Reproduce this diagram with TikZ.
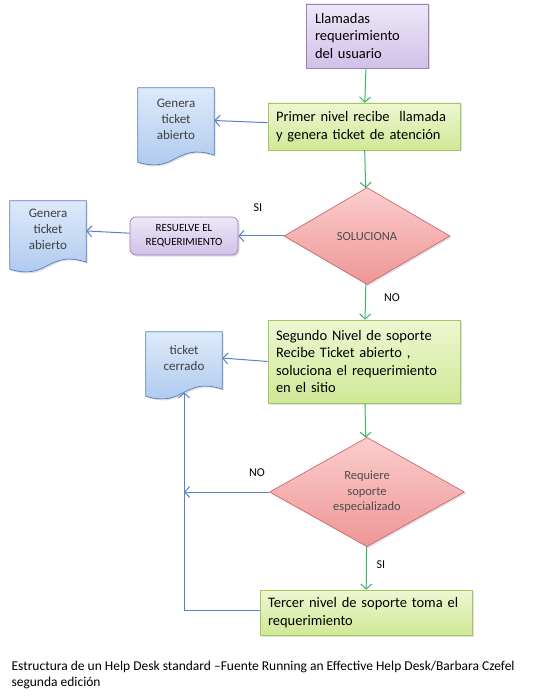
\documentclass[tikz,border=0pt]{standalone}
\usepackage{fontspec}
\setmainfont{Carlito}
\usetikzlibrary{positioning,calc,shapes.geometric,arrows.meta,shadows,backgrounds}

\definecolor{lilaT}{RGB}{238,232,248}
\definecolor{lilaB}{RGB}{208,192,232}
\definecolor{lilaD}{RGB}{150,130,185}
\definecolor{verdeT}{RGB}{238,247,210}
\definecolor{verdeB}{RGB}{208,232,150}
\definecolor{verdeD}{RGB}{160,200,95}
\definecolor{azulT}{RGB}{222,234,250}
\definecolor{azulB}{RGB}{170,198,238}
\definecolor{azulD}{RGB}{85,128,190}
\definecolor{rojoT}{RGB}{252,205,205}
\definecolor{rojoB}{RGB}{238,150,150}
\definecolor{rojoD}{RGB}{205,105,105}
\definecolor{flechaV}{RGB}{55,180,100}
\definecolor{flechaA}{RGB}{85,130,200}

\begin{document}
\begin{tikzpicture}[x=1pt,y=-1pt,font=\rmfamily]
\tikzset{
  sombra/.style={drop shadow={opacity=0.25, shadow xshift=1.5pt, shadow yshift=-1.5pt}},
  caja/.style={draw=verdeD, line width=0.7pt, top color=verdeT, bottom color=verdeB, sombra,
    align=left, inner sep=0pt, font=\fontsize{14.5}{17.5}\selectfont},
  cajalila/.style={caja, draw=lilaD, top color=lilaT, bottom color=lilaB},
  rombo/.style={diamond, draw=rojoD, line width=0.7pt, top color=rojoT, bottom color=rojoB, sombra,
    inner sep=0pt, align=center, text=black!70},
  resuelve/.style={draw=lilaD, line width=0.7pt, top color=lilaT, bottom color=lilaB, sombra,
    rounded corners=6pt, align=center, inner sep=0pt, font=\fontsize{11}{14}\selectfont},
  docu/.style={align=center, inner sep=0pt, text=black!75, font=\fontsize{13}{16}\selectfont},
  docline/.style={draw=azulD, line width=0.7pt, top color=azulT, bottom color=azulB, sombra},
  fv/.style={draw=flechaV, line width=1pt, -{Straight Barb[length=5pt,width=11pt]}},
  fa/.style={draw=flechaA, line width=1pt, -{Straight Barb[length=5pt,width=11pt]}},
  etq/.style={font=\fontsize{12}{14}\selectfont}
}
\useasboundingbox (0,0) rectangle (535,700);

% flujo principal
\node[cajalila, minimum width=122pt, minimum height=64pt, text width=104pt] (llam) at (367,36)
  {Llamadas\\requerimiento\\del usuario};
\node[caja, minimum width=192pt, minimum height=47pt, text width=176pt] (prim) at (364,126.5)
  {Primer nivel recibe \ llamada\\y genera ticket de atención};
\node[rombo, minimum width=166pt, minimum height=97pt, font=\fontsize{12.5}{14}\selectfont] (sol) at (367,236)
  {SOLUCIONA};
\node[caja, minimum width=192pt, minimum height=83pt, text width=176pt] (seg) at (364,361.5)
  {Segundo Nivel de soporte\\Recibe Ticket abierto ,\\soluciona el requerimiento\\en el sitio};
\node[rombo, minimum width=195pt, minimum height=95pt, font=\fontsize{12.5}{15.5}\selectfont] (req) at (367,492)
  {Requiere\\soporte\\especializado};
\node[caja, minimum width=212pt, minimum height=45pt, text width=196pt] (ter) at (366,612.5)
  {Tercer nivel de soporte toma el\\requerimiento};

% ramas laterales
\node[resuelve, minimum width=108pt, minimum height=38pt] (res) at (184,236)
  {RESUELVE EL\\REQUERIMIENTO};
\node[docu, minimum width=76pt, minimum height=62pt] (gen1) at (176,119) {Genera\\ticket\\abierto};
\node[docu, minimum width=76pt, minimum height=56pt] (gen2) at (48,229) {Genera\\ticket\\abierto};
\node[docu, minimum width=76pt, minimum height=52pt] (tkc) at (184,358) {ticket\\cerrado};

\begin{pgfonlayer}{background}
\foreach \d in {gen1,gen2,tkc}
  \path[docline] (\d.north west) -- (\d.north east) -- ([yshift=-5pt]\d.south east)
    .. controls ([yshift=8pt]\d.south) and ([yshift=-24pt]\d.south) .. ([yshift=-12pt]\d.south west) -- cycle;
\end{pgfonlayer}

% conectores
\draw[fv] (llam) -- (prim);
\draw[fv] (prim) -- (sol);
\draw[fv] (sol) -- (seg);
\draw[fv] (seg) -- (req);
\draw[fv] (req) -- (ter);
\draw[fa] (prim) -- (gen1);
\draw[fa] (sol) -- (res);
\draw[fa] (res) -- (gen2);
\draw[fa] (seg.west) -- (tkc.east);
\draw[fa] (req.west) -- (req.west -| tkc.south);
\draw[fa] (ter.west |- 0,610) -| ([yshift=-8pt]tkc.south);

\node[etq] (si1) at (258,208) {SI};
\node[etq] (no1) at (392,298) {NO};
\node[etq] (no2) at (257,473) {NO};
\node[etq] (si2) at (381,565) {SI};

\node[anchor=west, align=left, font=\fontsize{13.5}{16}\selectfont] (pie) at (8,675)
  {Estructura de un Help Desk standard –Fuente Running an Effective Help Desk/Barbara Czefel\\segunda edición};
\end{tikzpicture}
\end{document}
